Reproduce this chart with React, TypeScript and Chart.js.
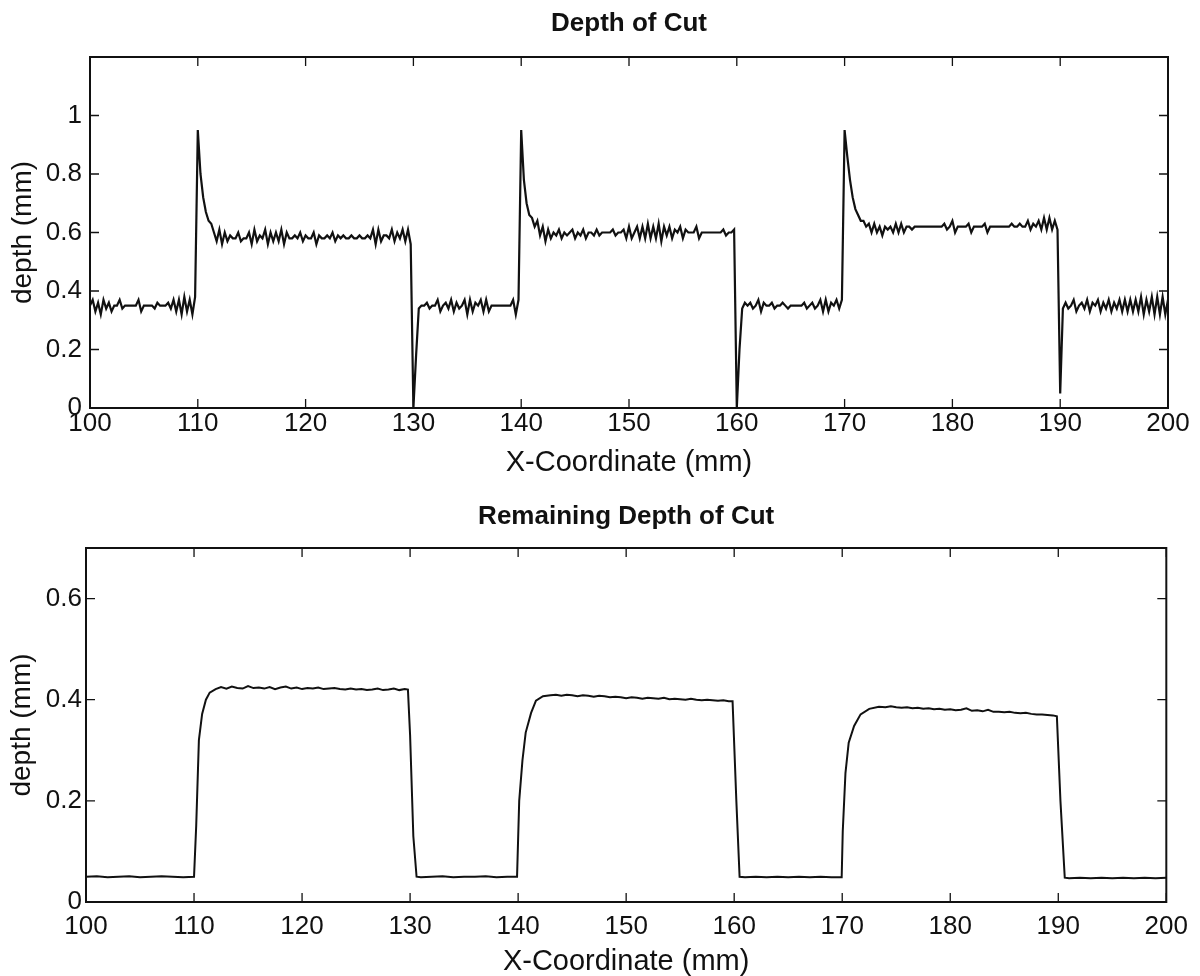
import React, { useEffect, useRef } from 'react';
import { Chart, registerables } from 'chart.js';

Chart.register(...registerables);

// ---------- axis ticks ----------
const xTickValues = [100, 110, 120, 130, 140, 150, 160, 170, 180, 190, 200];
const depthYTicks = [0, 0.2, 0.4, 0.6, 0.8, 1];
const remainYTicks = [0, 0.2, 0.4, 0.6];

// ---------- "Depth of Cut" (sampled every 0.25 mm from each segment start) ----------
const depthStep = 0.25;
const depthSegStarts = [100, 110, 130, 140, 160, 170, 190];
const depthSegA = [
  0.35, 0.37, 0.33, 0.36, 0.32, 0.37, 0.34, 0.36, 0.33, 0.35,
  0.35, 0.37, 0.34, 0.35, 0.35, 0.35, 0.35, 0.35, 0.37, 0.33,
  0.35, 0.35, 0.35, 0.35, 0.34, 0.36, 0.35, 0.35, 0.35, 0.36,
  0.34, 0.37, 0.33, 0.37, 0.32, 0.38, 0.33, 0.37, 0.32, 0.38,
];
const depthSegB = [
  0.95, 0.80, 0.72, 0.67, 0.64, 0.63, 0.60, 0.57, 0.61, 0.56,
  0.60, 0.57, 0.59, 0.58, 0.58, 0.60, 0.57, 0.58, 0.58, 0.60,
  0.56, 0.61, 0.57, 0.59, 0.58, 0.61, 0.56, 0.60, 0.57, 0.60,
  0.57, 0.61, 0.56, 0.60, 0.58, 0.58, 0.59, 0.58, 0.60, 0.57,
  0.59, 0.58, 0.58, 0.60, 0.56, 0.59, 0.58, 0.58, 0.59, 0.58,
  0.60, 0.57, 0.59, 0.58, 0.59, 0.58, 0.58, 0.59, 0.58, 0.58,
  0.59, 0.58, 0.58, 0.59, 0.58, 0.61, 0.56, 0.61, 0.57, 0.59,
  0.59, 0.58, 0.61, 0.57, 0.60, 0.58, 0.61, 0.57, 0.61, 0.56,
];
const depthSegC = [
  0.00, 0.18, 0.34, 0.35, 0.35, 0.36, 0.34, 0.35, 0.35, 0.37,
  0.33, 0.35, 0.36, 0.34, 0.37, 0.33, 0.36, 0.34, 0.35, 0.37,
  0.32, 0.37, 0.33, 0.36, 0.35, 0.37, 0.33, 0.37, 0.33, 0.35,
  0.35, 0.35, 0.35, 0.35, 0.35, 0.35, 0.35, 0.37, 0.32, 0.37,
];
const depthSegD = [
  0.95, 0.78, 0.70, 0.66, 0.65, 0.62, 0.64, 0.59, 0.62, 0.57,
  0.61, 0.58, 0.60, 0.59, 0.61, 0.58, 0.60, 0.59, 0.60, 0.61,
  0.58, 0.60, 0.59, 0.61, 0.58, 0.60, 0.60, 0.59, 0.61, 0.59,
  0.60, 0.60, 0.60, 0.60, 0.61, 0.59, 0.60, 0.60, 0.61, 0.58,
  0.62, 0.58, 0.60, 0.62, 0.58, 0.62, 0.58, 0.63, 0.58, 0.62,
  0.58, 0.63, 0.57, 0.62, 0.59, 0.62, 0.58, 0.61, 0.60, 0.62,
  0.58, 0.61, 0.60, 0.60, 0.60, 0.62, 0.58, 0.60, 0.60, 0.60,
  0.60, 0.60, 0.60, 0.60, 0.60, 0.61, 0.59, 0.60, 0.60, 0.61,
];
const depthSegE = [
  0.00, 0.20, 0.34, 0.36, 0.35, 0.36, 0.34, 0.35, 0.37, 0.33,
  0.36, 0.35, 0.35, 0.36, 0.34, 0.35, 0.35, 0.36, 0.35, 0.34,
  0.35, 0.35, 0.35, 0.35, 0.35, 0.36, 0.34, 0.35, 0.36, 0.34,
  0.35, 0.37, 0.33, 0.37, 0.33, 0.36, 0.35, 0.37, 0.34, 0.37,
];
const depthSegF = [
  0.95, 0.86, 0.78, 0.72, 0.68, 0.66, 0.64, 0.64, 0.62, 0.63,
  0.60, 0.63, 0.60, 0.62, 0.59, 0.62, 0.61, 0.62, 0.60, 0.63,
  0.60, 0.63, 0.60, 0.62, 0.62, 0.61, 0.62, 0.62, 0.62, 0.62,
  0.62, 0.62, 0.62, 0.62, 0.62, 0.62, 0.62, 0.63, 0.61, 0.62,
  0.64, 0.60, 0.62, 0.62, 0.62, 0.62, 0.63, 0.60, 0.62, 0.62,
  0.62, 0.62, 0.63, 0.60, 0.62, 0.62, 0.62, 0.62, 0.62, 0.62,
  0.62, 0.62, 0.63, 0.62, 0.62, 0.63, 0.62, 0.62, 0.64, 0.61,
  0.63, 0.62, 0.64, 0.61, 0.65, 0.61, 0.65, 0.61, 0.64, 0.61,
];
const depthSegG = [
  0.05, 0.34, 0.36, 0.34, 0.35, 0.37, 0.33, 0.35, 0.36, 0.34,
  0.37, 0.33, 0.36, 0.35, 0.37, 0.33, 0.36, 0.34, 0.37, 0.33,
  0.36, 0.34, 0.37, 0.33, 0.37, 0.33, 0.37, 0.33, 0.37, 0.33,
  0.38, 0.32, 0.37, 0.33, 0.38, 0.32, 0.38, 0.32, 0.38, 0.32,
  0.37,
];

// ---------- "Remaining Depth of Cut" ----------
const remainX = [
  100, 101, 102, 103, 104, 105, 106, 107, 108, 109, 110.0,
  110.2, 110.45, 110.75, 111.1, 111.45, 112.0, 112.5, 113, 113.5, 114, 114.5, 115, 115.5,
  116, 116.5, 117, 117.5, 118, 118.5, 119, 119.5, 120, 120.5, 121, 121.5, 122, 122.5,
  123, 123.5, 124, 124.5, 125, 125.5, 126, 126.5, 127, 127.5, 128, 128.5, 129, 129.5, 129.8,
  130.0, 130.3, 130.6, 131, 132, 133, 134, 135, 136, 137, 138, 139, 139.9,
  140.1, 140.4, 140.7, 141.2, 141.65, 142.3, 143, 143.5, 144, 144.5, 145, 145.5, 146, 146.5,
  147, 147.5, 148, 148.5, 149, 149.5, 150, 150.5, 151, 151.5, 152, 152.5, 153, 153.5,
  154, 154.5, 155, 155.5, 156, 156.5, 157, 157.5, 158, 158.5, 159, 159.5, 159.85,
  160.2, 160.5, 161, 162, 163, 164, 165, 166, 167, 168, 169, 169.95,
  170.05, 170.3, 170.6, 171.1, 171.7, 172.5, 173.4, 174, 174.5, 175, 175.5, 176, 176.5,
  177, 177.5, 178, 178.5, 179, 179.5, 180, 180.5, 181, 181.5, 182, 182.5, 183, 183.5,
  184, 184.5, 185, 185.5, 186, 186.5, 187, 187.5, 188, 188.5, 189, 189.5, 189.87,
  190.2, 190.6, 191, 192, 193, 194, 195, 196, 197, 198, 199, 200,
];
const remainY = [
  0.050, 0.051, 0.049, 0.050, 0.051, 0.049, 0.050, 0.051, 0.050, 0.049, 0.050,
  0.150, 0.320, 0.372, 0.400, 0.414, 0.421, 0.425, 0.422, 0.426, 0.423, 0.422, 0.427, 0.423,
  0.424, 0.422, 0.425, 0.421, 0.424, 0.426, 0.422, 0.424, 0.421, 0.423, 0.422, 0.424, 0.421, 0.422,
  0.423, 0.421, 0.420, 0.422, 0.420, 0.421, 0.419, 0.420, 0.422, 0.419, 0.420, 0.422, 0.419, 0.421, 0.420,
  0.330, 0.130, 0.050, 0.049, 0.050, 0.051, 0.049, 0.050, 0.050, 0.051, 0.049, 0.050, 0.050,
  0.200, 0.280, 0.335, 0.374, 0.398, 0.407, 0.409, 0.410, 0.408, 0.410, 0.409, 0.407, 0.409, 0.408,
  0.406, 0.408, 0.407, 0.405, 0.406, 0.405, 0.403, 0.405, 0.404, 0.402, 0.404, 0.403, 0.402, 0.404,
  0.401, 0.402, 0.401, 0.400, 0.402, 0.400, 0.399, 0.400, 0.399, 0.398, 0.399, 0.397, 0.397,
  0.200, 0.050, 0.049, 0.050, 0.049, 0.050, 0.049, 0.050, 0.049, 0.050, 0.049, 0.049,
  0.140, 0.255, 0.315, 0.348, 0.371, 0.382, 0.386, 0.385, 0.387, 0.385, 0.384, 0.385, 0.383,
  0.384, 0.382, 0.383, 0.381, 0.382, 0.380, 0.381, 0.379, 0.380, 0.383, 0.378, 0.379, 0.377, 0.380,
  0.376, 0.376, 0.375, 0.376, 0.374, 0.373, 0.374, 0.372, 0.371, 0.371, 0.370, 0.369, 0.367,
  0.200, 0.048, 0.047, 0.048, 0.047, 0.048, 0.047, 0.048, 0.047, 0.048, 0.047, 0.048,
];

const FONT = "'Liberation Sans', Arial, Helvetica, sans-serif";

function buildDepthPoints() {
  const segs = [depthSegA, depthSegB, depthSegC, depthSegD, depthSegE, depthSegF, depthSegG];
  const pts: { x: number; y: number }[] = [];
  segs.forEach((seg, k) => {
    seg.forEach((v, i) => pts.push({ x: depthSegStarts[k] + i * depthStep, y: v }));
  });
  return pts;
}

function buildRemainPoints() {
  return remainX.map((x, i) => ({ x, y: remainY[i] }));
}

const framePlugin = {
  id: 'matlabFrame',
  afterDraw(chart: any) {
    const { ctx, chartArea } = chart;
    const { left, right, top, bottom } = chartArea;
    const xs = chart.scales.x;
    const ys = chart.scales.y;
    const len = 9;
    ctx.save();
    ctx.strokeStyle = '#111';
    ctx.lineWidth = 1.3;
    ctx.beginPath();
    for (const t of xs.ticks) {
      const px = xs.getPixelForValue(t.value);
      ctx.moveTo(px, bottom);
      ctx.lineTo(px, bottom - len);
      ctx.moveTo(px, top);
      ctx.lineTo(px, top + len);
    }
    for (const t of ys.ticks) {
      const py = ys.getPixelForValue(t.value);
      ctx.moveTo(left, py);
      ctx.lineTo(left + len, py);
      ctx.moveTo(right, py);
      ctx.lineTo(right - len, py);
    }
    ctx.stroke();
    ctx.lineWidth = 2;
    ctx.strokeRect(left, top, right - left, bottom - top);
    ctx.restore();
  },
};

type Layout = {
  title: string;
  points: { x: number; y: number }[];
  yMax: number;
  yTicks: number[];
  yWidth: number;
  xHeight: number;
  padRight: number;
  titlePadTop: number;
  titlePadBottom: number;
  tickPadX: number;
  tickPadY: number;
  xTitlePadBottom: number;
  yTitlePadTop: number;
  lineWidth: number;
};

function makeConfig(L: Layout): any {
  return {
    type: 'line',
    data: {
      datasets: [
        {
          data: L.points,
          borderColor: '#111',
          borderWidth: L.lineWidth,
          pointRadius: 0,
          tension: 0,
          fill: false,
        },
      ],
    },
    options: {
      responsive: false,
      animation: false,
      events: [],
      layout: { padding: { left: 0, right: L.padRight, top: 0, bottom: 0 } },
      plugins: {
        legend: { display: false },
        tooltip: { enabled: false },
        title: {
          display: true,
          text: L.title,
          fullSize: false,
          color: '#111',
          font: { family: FONT, size: 26, weight: 'bold', lineHeight: 1.2 },
          padding: { top: L.titlePadTop, bottom: L.titlePadBottom },
        },
      },
      scales: {
        x: {
          type: 'linear',
          min: 100,
          max: 200,
          afterBuildTicks: (s: any) => {
            s.ticks = xTickValues.map((v) => ({ value: v }));
          },
          afterFit: (s: any) => {
            s.height = L.xHeight;
          },
          grid: { display: false, drawTicks: false },
          border: { display: false },
          ticks: {
            color: '#111',
            font: { family: FONT, size: 26, lineHeight: 1 },
            padding: L.tickPadX,
            maxRotation: 0,
            autoSkip: false,
            callback: (v: number) => String(v),
          },
          title: {
            display: true,
            text: 'X-Coordinate (mm)',
            color: '#111',
            font: { family: FONT, size: 29, lineHeight: 1 },
            padding: { top: 0, bottom: L.xTitlePadBottom },
          },
        },
        y: {
          type: 'linear',
          min: 0,
          max: L.yMax,
          afterBuildTicks: (s: any) => {
            s.ticks = L.yTicks.map((v) => ({ value: v }));
          },
          afterFit: (s: any) => {
            s.width = L.yWidth;
          },
          grid: { display: false, drawTicks: false },
          border: { display: false },
          ticks: {
            color: '#111',
            font: { family: FONT, size: 26, lineHeight: 1 },
            padding: L.tickPadY,
            autoSkip: false,
            callback: (v: number) => String(Number(v.toFixed(1))),
          },
          title: {
            display: true,
            text: 'depth (mm)',
            color: '#111',
            font: { family: FONT, size: 28, lineHeight: 1 },
            padding: { top: L.yTitlePadTop, bottom: 0 },
          },
        },
      },
    },
    plugins: [framePlugin],
  };
}

export default function App() {
  const topRef = useRef<HTMLCanvasElement | null>(null);
  const botRef = useRef<HTMLCanvasElement | null>(null);

  useEffect(() => {
    const charts: Chart[] = [];
    if (topRef.current) {
      charts.push(
        new Chart(
          topRef.current,
          makeConfig({
            title: 'Depth of Cut',
            points: buildDepthPoints(),
            yMax: 1.2,
            yTicks: depthYTicks,
            yWidth: 90,
            xHeight: 82,
            padRight: 32,
            titlePadTop: 8,
            titlePadBottom: 17.8,
            tickPadX: 3,
            tickPadY: 8,
            xTitlePadBottom: 13,
            yTitlePadTop: 9,
            lineWidth: 2.2,
          })
        )
      );
    }
    if (botRef.current) {
      charts.push(
        new Chart(
          botRef.current,
          makeConfig({
            title: 'Remaining Depth of Cut',
            points: buildRemainPoints(),
            yMax: 0.7,
            yTicks: remainYTicks,
            yWidth: 86,
            xHeight: 74,
            padRight: 33,
            titlePadTop: 11.4,
            titlePadBottom: 15.4,
            tickPadX: 12,
            tickPadY: 4,
            xTitlePadBottom: 0,
            yTitlePadTop: 8,
            lineWidth: 2,
          })
        )
      );
    }
    return () => charts.forEach((c) => c.destroy());
  }, []);

  return (
    <div style={{ position: 'absolute', left: 0, top: 0, width: 1200, height: 976, background: '#fff' }}>
      <canvas
        ref={topRef}
        width={1200}
        height={490}
        style={{ position: 'absolute', left: 0, top: 0, width: 1200, height: 490, display: 'block' }}
      />
      <canvas
        ref={botRef}
        width={1200}
        height={486}
        style={{ position: 'absolute', left: 0, top: 490, width: 1200, height: 486, display: 'block' }}
      />
    </div>
  );
}
